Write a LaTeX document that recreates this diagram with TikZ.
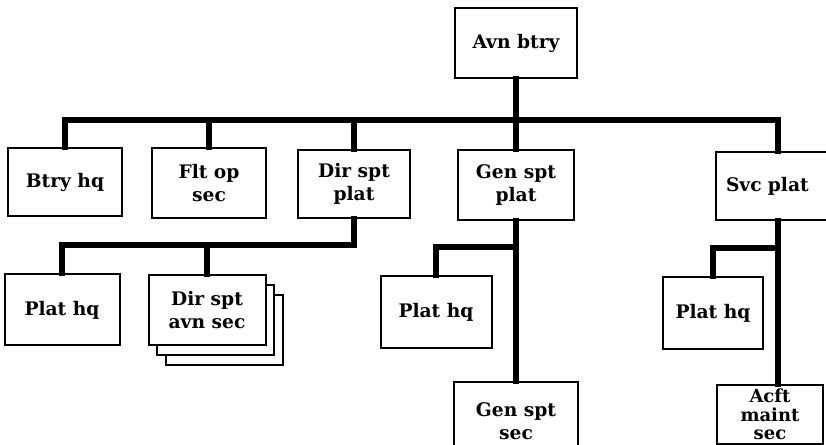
\documentclass[tikz,border=0pt]{standalone}
\usepackage{tikz}
\usepackage{fontspec}
\setmainfont{DejaVu Serif}
\usetikzlibrary{shadows}
\tikzset{every picture/.style={line width=0.75pt}}
\tikzset{
  unitbox/.style={draw, line width=1.5pt, fill=white, align=center, inner sep=0pt,
    font=\bfseries\fontsize{14}{17}\selectfont},
  link/.style={line width=4.5pt, line cap=rect}
}

\begin{document}
\begin{tikzpicture}[x=0.75pt,y=0.75pt,yscale=-1,xscale=1]
		\useasboundingbox (0,0) rectangle (826,445);
		\clip (0,0) rectangle (826,445);
		
		%Shape: Rectangle [id:avnbtry] 
		\node [unitbox, minimum width=91.5pt, minimum height=52.5pt] (avnbtry) at (516,43) {Avn btry};
		
		%Shape: Rectangle [id:btryhq] 
		\node [unitbox, minimum width=85.5pt, minimum height=51pt] (btryhq) at (65,182) {Btry hq};
		%Shape: Rectangle [id:fltop] 
		\node [unitbox, minimum width=85.5pt, minimum height=52.5pt] (fltop) at (209,183) {Flt op\\sec};
		%Shape: Rectangle [id:dirspt] 
		\node [unitbox, minimum width=84pt, minimum height=51pt] (dirspt) at (354,184) {Dir spt\\plat};
		%Shape: Rectangle [id:genspt] 
		\node [unitbox, minimum width=87pt, minimum height=52.5pt] (genspt) at (516,185) {Gen spt\\plat};
		%Shape: Rectangle [id:svcplat] 
		\node [unitbox, anchor=west, inner xsep=7.5pt, text width=78pt, align=left, minimum height=51pt] (svcplat) at (715,186) {Svc plat};
		
		%Shape: Rectangle [id:dirhq] 
		\node [unitbox, minimum width=86.25pt, minimum height=53.25pt] (dirhq) at (62,310) {Plat hq};
		%Shape: Rectangle [id:dirsec] 
		\node [unitbox, minimum width=87.75pt, minimum height=52.5pt,
		  double copy shadow={shadow xshift=6.5pt, shadow yshift=-7.5pt, draw, fill=white, line width=1.5pt}] (dirsec) at (207,310) {Dir spt\\avn sec};
		%Shape: Rectangle [id:genhq] 
		\node [unitbox, minimum width=83.25pt, minimum height=54pt] (genhq) at (436,312) {Plat hq};
		%Shape: Rectangle [id:gensec] 
		\node [unitbox, minimum width=93pt, minimum height=58.5pt] (gensec) at (516,421) {Gen spt\\sec};
		%Shape: Rectangle [id:svchq] 
		\node [unitbox, minimum width=75pt, minimum height=54pt] (svchq) at (713,313) {Plat hq};
		%Shape: Rectangle [id:acft] 
		\node [unitbox, font=\bfseries\fontsize{13.5}{14}\selectfont, minimum width=79.5pt, minimum height=44.25pt] (acft) at (770,414.5) {Acft\\maint\\sec};
		
		%Straight Lines [id:bus] 
		\coordinate (bus) at (516,120);
		\draw [link] (avnbtry.south) -- (bus) -- (genspt.north) ;
		\draw [link] (btryhq.north) |- (bus) -| (svcplat.north) ;
		\draw [link] (fltop.north) -- (fltop.north |- bus) ;
		\draw [link] (dirspt.north) -- (dirspt.north |- bus) ;
		
		%Straight Lines [id:dirbus] 
		\coordinate (dirbus) at (354,245);
		\draw [link] (dirspt.south) -- (dirbus) -| (dirhq.north) ;
		\draw [link] (dirsec.north) -- (dirsec.north |- dirbus) ;
		
		%Straight Lines [id:genbus] 
		\coordinate (genbus) at (516,247);
		\draw [link] (genspt.south) -- (gensec.north) ;
		\draw [link] (genbus) -| (genhq.north) ;
		
		%Straight Lines [id:svcbus] 
		\coordinate (svcbus) at (777,248);
		\draw [link] (svcplat.south) -- (svcplat.south |- acft.north) ;
		\draw [link] (svcbus) -| (svchq.north) ;
		
		\end{tikzpicture}
\end{document}
